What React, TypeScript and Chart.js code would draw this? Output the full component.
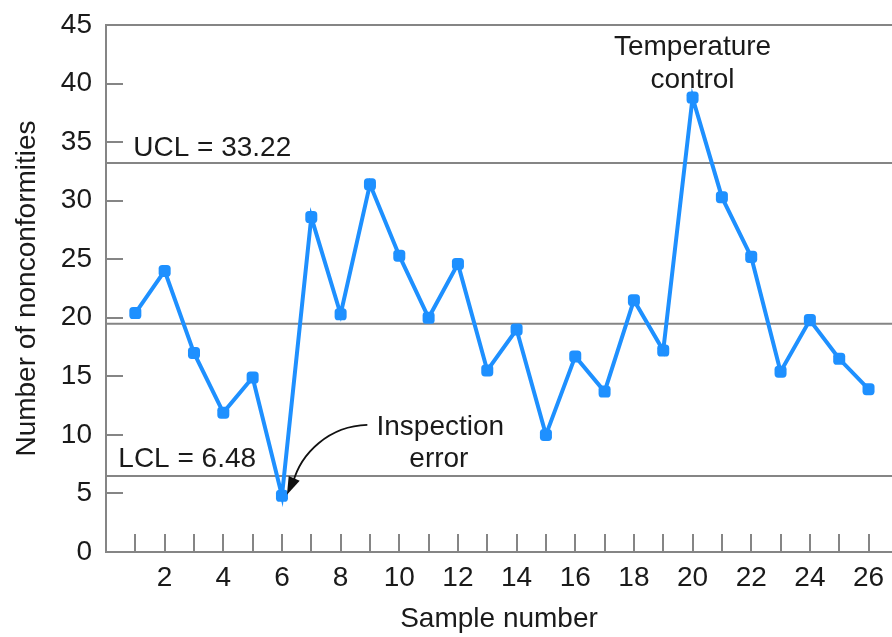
import { useEffect, useRef } from 'react';
import { Chart, registerables } from 'chart.js';

Chart.register(...registerables);

const samples = [1, 2, 3, 4, 5, 6, 7, 8, 9, 10, 11, 12, 13, 14, 15, 16, 17, 18, 19, 20, 21, 22, 23, 24, 25, 26];
const nonconformities = [20.4, 24.0, 17.0, 11.9, 14.9, 4.8, 28.6, 20.3, 31.4, 25.3, 20.0, 24.6, 15.5, 19.0, 10.0, 16.7, 13.7, 21.5, 17.2, 38.8, 30.3, 25.2, 15.4, 19.8, 16.5, 13.9];
const UCL = 33.22;
const CENTER = 19.5;
const LCL = 6.48;
const X_MIN = 0;
const X_MAX = 26.8;
const Y_MIN = 0;
const Y_MAX = 45;
const Y_TICK_MARKS = [5, 10, 15, 20, 25, 30, 35, 40];
const X_TICK_LABELS = [2, 4, 6, 8, 10, 12, 14, 16, 18, 20, 22, 24, 26];
const UCL_TEXT = 'UCL = 33.22';
const LCL_TEXT = 'LCL = 6.48';
const INSPECTION_TEXT = ['Inspection', 'error'];
const TEMPERATURE_TEXT = ['Temperature', 'control'];

const FONT_FAMILY = "'Liberation Sans', Arial, Helvetica, sans-serif";
const FONT_SIZE = 28;
const TEXT_COLOR = '#1a1a1a';
const GRAY = '#858585';
const BLUE = '#1e90ff';

const decorPlugin = {
  id: 'decor',
  beforeDatasetsDraw(chart: any) {
    const { ctx, chartArea, scales } = chart;
    const xs = scales.x;
    const ys = scales.y;
    ctx.save();
    ctx.strokeStyle = GRAY;
    ctx.lineWidth = 2;
    // top frame
    ctx.beginPath();
    ctx.moveTo(chartArea.left, ys.getPixelForValue(Y_MAX));
    ctx.lineTo(chartArea.right, ys.getPixelForValue(Y_MAX));
    ctx.stroke();
    // inward y ticks
    for (const v of Y_TICK_MARKS) {
      const py = Math.round(ys.getPixelForValue(v));
      ctx.beginPath();
      ctx.moveTo(chartArea.left, py);
      ctx.lineTo(chartArea.left + 17, py);
      ctx.stroke();
    }
    // inward x ticks
    for (const v of samples) {
      const px = Math.round(xs.getPixelForValue(v));
      ctx.beginPath();
      ctx.moveTo(px, chartArea.bottom);
      ctx.lineTo(px, chartArea.bottom - 18);
      ctx.stroke();
    }
    ctx.restore();
  },
  afterDraw(chart: any) {
    const { ctx, scales } = chart;
    const xs = scales.x;
    const ys = scales.y;
    ctx.save();
    ctx.fillStyle = TEXT_COLOR;
    ctx.font = `${FONT_SIZE}px ${FONT_FAMILY}`;
    ctx.textBaseline = 'alphabetic';

    ctx.textAlign = 'left';
    ctx.fillText(UCL_TEXT, xs.getPixelForValue(0.93), ys.getPixelForValue(UCL) - 7);
    ctx.fillText(LCL_TEXT, xs.getPixelForValue(0.42), ys.getPixelForValue(LCL) - 9);

    ctx.textAlign = 'center';
    ctx.fillText(INSPECTION_TEXT[0], xs.getPixelForValue(11.4), ys.getPixelForValue(10.0));
    ctx.fillText(INSPECTION_TEXT[1], xs.getPixelForValue(11.35), ys.getPixelForValue(7.25));
    ctx.fillText(TEMPERATURE_TEXT[0], xs.getPixelForValue(20), ys.getPixelForValue(42.45));
    ctx.fillText(TEMPERATURE_TEXT[1], xs.getPixelForValue(20), ys.getPixelForValue(39.6));

    // arrow to sample 6
    const p6x = xs.getPixelForValue(6);
    const p6y = ys.getPixelForValue(nonconformities[5]);
    const tipX = p6x + 5;
    const tipY = p6y - 1;
    const sx = xs.getPixelForValue(11.4) - 73;
    const sy = ys.getPixelForValue(10.0) - 10;
    ctx.strokeStyle = '#111';
    ctx.lineWidth = 1.8;
    ctx.beginPath();
    ctx.moveTo(sx, sy);
    ctx.bezierCurveTo(sx - 38, sy + 1, tipX + 14, tipY - 42, tipX + 6, tipY - 12);
    ctx.stroke();
    // arrow head
    const ang = Math.atan2(16, -7);
    const len = 18;
    const half = 6;
    const bx = tipX - Math.cos(ang) * len;
    const by = tipY - Math.sin(ang) * len;
    ctx.fillStyle = '#111';
    ctx.beginPath();
    ctx.moveTo(tipX, tipY);
    ctx.lineTo(bx + Math.sin(ang) * half, by - Math.cos(ang) * half);
    ctx.lineTo(bx - Math.sin(ang) * half, by + Math.cos(ang) * half);
    ctx.closePath();
    ctx.fill();
    ctx.restore();
  },
};

export default function App() {
  const canvasRef = useRef<HTMLCanvasElement | null>(null);

  useEffect(() => {
    if (!canvasRef.current) return;
    const font = { family: FONT_FAMILY, size: FONT_SIZE };
    const hline = (v: number) => ({
      data: [
        { x: X_MIN, y: v },
        { x: X_MAX, y: v },
      ],
      borderColor: GRAY,
      borderWidth: 2,
      pointRadius: 0,
      fill: false,
    });
    const chart = new Chart(canvasRef.current, {
      type: 'line',
      data: {
        datasets: [
          {
            data: samples.map((s, i) => ({ x: s, y: nonconformities[i] })),
            borderColor: BLUE,
            backgroundColor: BLUE,
            borderWidth: 4,
            pointRadius: 7,
            pointStyle: 'rectRounded',
            pointBorderWidth: 0,
            tension: 0,
            fill: false,
          },
          hline(UCL),
          hline(CENTER),
          hline(LCL),
        ],
      },
      options: {
        responsive: false,
        animation: false,
        layout: { autoPadding: false, padding: { top: 25, left: 0, right: 0, bottom: 0 } },
        plugins: { legend: { display: false }, tooltip: { enabled: false } },
        scales: {
          x: {
            type: 'linear',
            min: X_MIN,
            max: X_MAX,
            grid: { display: false, drawTicks: false },
            border: { display: true, color: GRAY, width: 2 },
            ticks: {
              stepSize: 1,
              includeBounds: false,
              autoSkip: false,
              maxRotation: 0,
              padding: 9,
              font,
              color: TEXT_COLOR,
              callback: (v: any) => (X_TICK_LABELS.includes(Number(v)) ? String(v) : ''),
            },
            title: {
              display: true,
              text: 'Sample number',
              font,
              color: TEXT_COLOR,
              padding: { top: 0, bottom: 1 },
            },
            afterFit: (s: any) => {
              s.height = 85;
              s.paddingLeft = 0;
              s.paddingRight = 0;
            },
          },
          y: {
            type: 'linear',
            min: Y_MIN,
            max: Y_MAX,
            grid: { display: false, drawTicks: false },
            border: { display: true, color: GRAY, width: 2 },
            ticks: { stepSize: 5, padding: 14, font, color: TEXT_COLOR },
            title: {
              display: true,
              text: 'Number of nonconformities',
              font,
              color: TEXT_COLOR,
              padding: { top: 10, bottom: 0 },
            },
            afterFit: (s: any) => {
              s.width = 106;
              s.paddingTop = 0;
              s.paddingBottom = 0;
            },
          },
        },
      },
      plugins: [decorPlugin],
    } as any);
    return () => chart.destroy();
  }, []);

  return (
    <div style={{ position: 'absolute', left: 0, top: 0, width: 892, height: 637, background: '#fff' }}>
      <canvas ref={canvasRef} width={892} height={637} style={{ display: 'block' }} />
    </div>
  );
}
